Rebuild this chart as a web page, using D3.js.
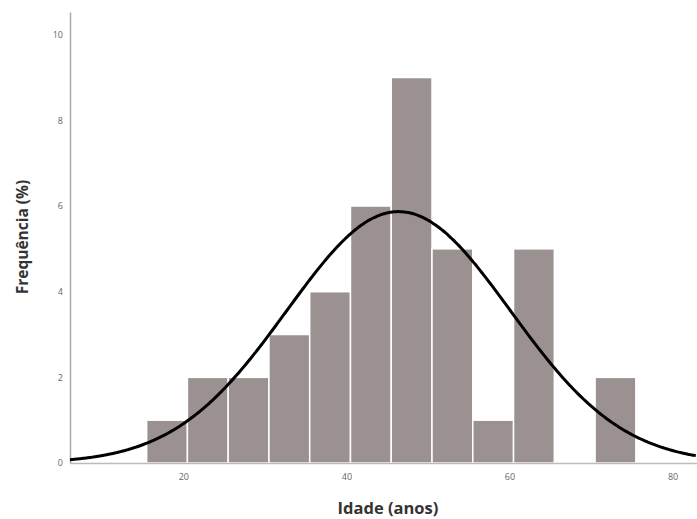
<!doctype html>
<html>
<head>
    <style>
        body { margin: 0; background: #fff; }
        .bar { fill: rgb(155, 145, 144); stroke: #fff; stroke-width: 1.5; }
        .tick text { fill: #666; font-size: 9px; font-family: "Open Sans", sans-serif; }
        .axis-title { font-family: "Open Sans", sans-serif; font-weight: bold; fill: #333; }
</style>
    <script src="https://d3js.org/d3.v7.min.js"></script>
</head>
<body>
    <svg width="697" height="519"></svg>
    <script>
        // histogram bins (age, 5-year groups) and their heights
        var binStarts = [15.5, 20.5, 25.5, 30.5, 35.5, 40.5, 45.5, 50.5, 55.5, 60.5, 65.5, 70.5];
        var binWidth = 5;
        var freqs = [1, 2, 2, 3, 4, 6, 9, 5, 1, 5, 0, 2];
        var xTicks = [20, 40, 60, 80];
        var yTicks = [0, 2, 4, 6, 8, 10];
        // fitted normal curve
        var curveMean = 46.4,
            curveSd = 13.7,
            curvePeak = 5.87;

        var svg = d3.select("svg");

        var x = d3.scaleLinear().domain([6.1, 83]).range([70, 697]),
            y = d3.scaleLinear().domain([0, 10.53]).range([463, 12]);

        var data = binStarts.map(function(d, i) { return {x0: d, x1: d + binWidth, v: freqs[i]}; });

        svg.selectAll(".bar")
           .data(data.filter(function(d) { return d.v > 0; }))
           .enter().append("rect")
           .attr("class", "bar")
           .attr("x", function(d) { return x(d.x0); })
           .attr("y", function(d) { return y(d.v); })
           .attr("width", function(d) { return x(d.x1) - x(d.x0); })
           .attr("height", function(d) { return y(0) - y(d.v); });

        // axes
        var gx = svg.append("g")
           .attr("transform", "translate(0," + y(0) + ")")
           .call(d3.axisBottom(x).tickValues(xTicks).tickSize(0).tickPadding(11));
        gx.select(".domain").attr("stroke", "#bbb").attr("stroke-width", 1.5);

        var gy = svg.append("g")
           .attr("transform", "translate(" + x.range()[0] + ",0)")
           .call(d3.axisLeft(y).tickValues(yTicks).tickSize(0).tickPadding(7));
        gy.select(".domain").attr("stroke", "#aaa").attr("stroke-width", 1.5);

        // normal curve
        var xs = d3.range(x.domain()[0], x.domain()[1] + 0.01, 0.25);
        var line = d3.line()
            .x(function(d) { return x(d); })
            .y(function(d) {
                var z = (d - curveMean) / curveSd;
                return y(curvePeak * Math.exp(-0.5 * z * z));
            })
            .curve(d3.curveBasis);
        svg.append("path")
           .datum(xs)
           .attr("d", line)
           .attr("fill", "none")
           .attr("stroke", "#000")
           .attr("stroke-width", 3);

        svg.append("text")
           .attr("class", "axis-title")
           .attr("transform", "translate(28,237) rotate(-90)")
           .attr("text-anchor", "middle")
           .attr("font-size", "15.5px")
           .text("Frequência (%)");

        svg.append("text")
           .attr("class", "axis-title")
           .attr("x", 388)
           .attr("y", 514)
           .attr("text-anchor", "middle")
           .attr("font-size", "16.5px")
           .text("Idade (anos)");
</script>
</body>
</html>
